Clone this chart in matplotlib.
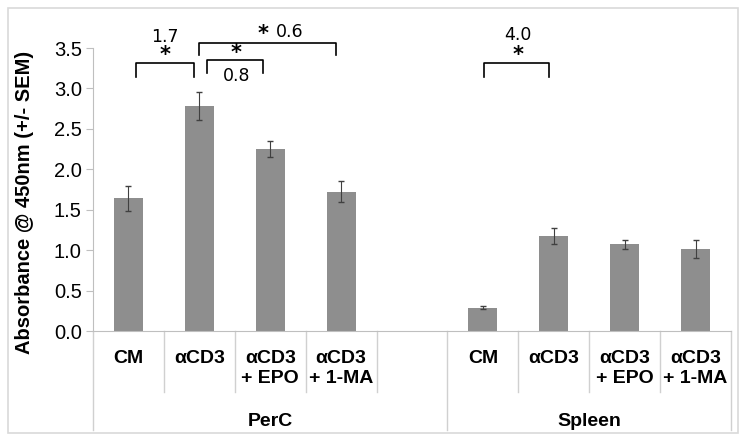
import numpy as np
import matplotlib.pyplot as plt
from matplotlib.patches import Rectangle

# ==========================================
# DATA
# ==========================================
groups = ['PerC', 'Spleen']
categories = ['CM', 'αCD3', 'αCD3\n+ EPO', 'αCD3\n+ 1-MA']
perc_means = [1.64, 2.78, 2.25, 1.72]
perc_sem = [0.15, 0.17, 0.10, 0.13]
spleen_means = [0.29, 1.17, 1.07, 1.01]
spleen_sem = [0.02, 0.10, 0.06, 0.11]

# positions (one empty slot between groups)
perc_pos = np.arange(4)
spleen_pos = np.arange(4) + 5

plt.rcParams['font.family'] = ['Liberation Sans', 'DejaVu Sans']

fig = plt.figure(figsize=(7.51, 4.43), dpi=100)
ax = fig.add_axes([0.1238, 0.2528, 0.8496, 0.6388])

# outer frame
fig.patches.append(Rectangle((8 / 751, 10 / 443), 730 / 751, 425 / 443,
                             transform=fig.transFigure, fill=False,
                             edgecolor='#d9d9d9', linewidth=1.2))

bar_color = '#8e8e8e'
ax.bar(perc_pos, perc_means, width=0.41, color=bar_color)
ax.bar(spleen_pos, spleen_means, width=0.41, color=bar_color)
ax.errorbar(perc_pos, perc_means, yerr=perc_sem, fmt='none',
            ecolor='#404040', elinewidth=0.8, capsize=2)
ax.errorbar(spleen_pos, spleen_means, yerr=spleen_sem, fmt='none',
            ecolor='#404040', elinewidth=0.8, capsize=2)

ax.set_xlim(-0.5, 8.5)
ax.set_ylim(0, 3.5)
ax.set_yticks(np.arange(0, 3.51, 0.5))
ax.set_yticklabels([f'{v:.1f}' for v in np.arange(0, 3.51, 0.5)], fontsize=14.5)
ax.tick_params(axis='y', length=5, color='#bfbfbf', pad=3)
ax.set_xticks([])

for s in ['top', 'right']:
    ax.spines[s].set_visible(False)
ax.spines['left'].set_color('#bfbfbf')
ax.spines['bottom'].set_color('#bfbfbf')

ax.set_ylabel('Absorbance @ 450nm (+/- SEM)', fontsize=14.5, fontweight='bold')
ax.yaxis.set_label_coords(-0.093, 0.456)

# ==========================================
# TWO-LEVEL X LABELS
# ==========================================
trans = ax.get_xaxis_transform()
short_y = -0.215
long_y = -0.35
for x in [0.5, 1.5, 2.5, 3.5, 5.5, 6.5, 7.5]:
    ax.plot([x, x], [0, short_y], transform=trans, color='#d0d0d0',
            lw=1, clip_on=False)
for x in [-0.5, 4.5, 8.5]:
    ax.plot([x, x], [0, long_y], transform=trans, color='#d0d0d0',
            lw=1, clip_on=False)

for pos in [perc_pos, spleen_pos]:
    for x, lab in zip(pos, categories):
        ax.text(x, -0.068, lab, transform=trans, ha='center', va='top',
                fontsize=14, fontweight='bold', linespacing=1.2)

ax.text(2.0, -0.32, groups[0], transform=trans, ha='center', va='center',
        fontsize=14, fontweight='bold')
ax.text(6.5, -0.32, groups[1], transform=trans, ha='center', va='center',
        fontsize=14, fontweight='bold')

# ==========================================
# SIGNIFICANCE BRACKETS
# ==========================================
ann = dict(ha='center', va='center', clip_on=False,
           family=['DejaVu Sans'])


def bracket(x1, x2, top, bottom):
    ax.plot([x1, x1, x2, x2], [bottom, top, top, bottom], color='black',
            lw=1.2, clip_on=False)


bracket(0.10, 0.92, 3.31, 3.14)
ax.text(0.51, 3.41, '*', fontsize=15, fontweight='bold', **ann)
ax.text(0.51, 3.64, '1.7', fontsize=12.5, **ann)

bracket(0.99, 2.93, 3.56, 3.41)
ax.text(1.90, 3.67, '*', fontsize=15, fontweight='bold', **ann)
ax.text(2.27, 3.70, '0.6', fontsize=12.5, **ann)

bracket(1.11, 1.90, 3.35, 3.19)
ax.text(1.52, 3.44, '*', fontsize=15, fontweight='bold', **ann)
ax.text(1.52, 3.16, '0.8', fontsize=12.5, **ann)

bracket(5.01, 5.93, 3.31, 3.14)
ax.text(5.5, 3.41, '*', fontsize=15, fontweight='bold', **ann)
ax.text(5.5, 3.66, '4.0', fontsize=12.5, **ann)

plt.savefig('out.png', dpi=100)
